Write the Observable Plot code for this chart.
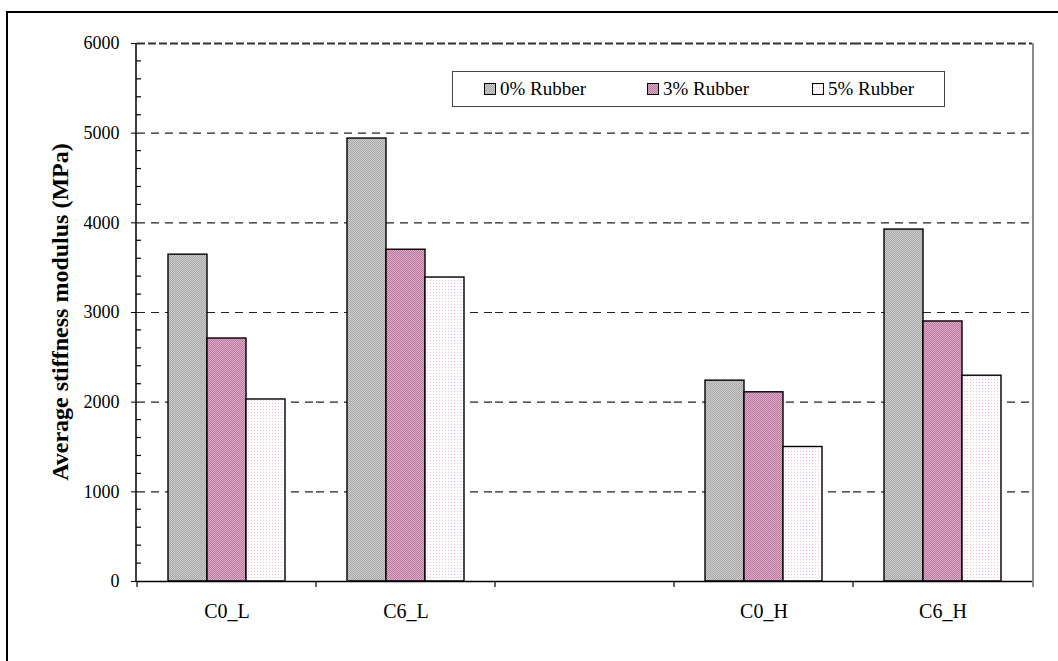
<!DOCTYPE html>
<html>
<head>
<meta charset="utf-8">
<script src="https://cdn.jsdelivr.net/npm/d3@7"></script>
<script src="https://cdn.jsdelivr.net/npm/@observablehq/plot@0.6"></script>
<style>
  html, body { margin: 0; padding: 0; background: #fff; }
  #wrap { position: relative; width: 1058px; height: 661px; overflow: hidden; font-family: "Liberation Serif", "DejaVu Serif", serif; }
  #outer { position: absolute; left: 6px; top: 11px; width: 1100px; height: 700px; border: 2.5px solid #000; box-sizing: border-box; }
  #chart { position: absolute; left: 0; top: 0; }
  #chart svg, #chart svg text { font-family: "Liberation Serif", "DejaVu Serif", serif !important; }
  #legend { position: absolute; left: 452px; top: 71px; width: 493px; height: 36px; border: 1px solid #444; background: #fff; box-sizing: border-box; }
  .item { position: absolute; top: 0; height: 34px; display: flex; align-items: center; font-size: 19px; color: #000; white-space: nowrap; }
  .item svg { margin-right: 4px; }
</style>
</head>
<body>
<svg width="0" height="0" style="position:absolute">
  <defs>
    <pattern id="pat0" width="2" height="2" patternUnits="userSpaceOnUse">
      <rect width="2" height="2" fill="#cbcbcb"/>
      <rect x="0" y="0" width="1" height="1" fill="#a9a9a9"/>
      <rect x="1" y="1" width="1" height="1" fill="#a9a9a9"/>
    </pattern>
    <pattern id="pat1" width="2" height="2" patternUnits="userSpaceOnUse">
      <rect width="2" height="2" fill="#dcaac6"/>
      <rect x="0" y="0" width="1" height="1" fill="#bb7ba0"/>
      <rect x="1" y="1" width="1" height="1" fill="#bb7ba0"/>
    </pattern>
    <pattern id="pat2" width="3" height="3" patternUnits="userSpaceOnUse">
      <rect width="3" height="3" fill="#ffffff"/>
      <rect x="1" y="1" width="1" height="1" fill="#ffbcc8"/>
    </pattern>
  </defs>
</svg>
<div id="wrap">
  <div id="outer"></div>
  <div id="chart"></div>
  <div id="legend"></div>
</div>
<script>
// ---- data ----
const slots = ["C0_L", "C6_L", " ", "C0_H", "C6_H"];
const groups = ["C0_L", "C6_L", "C0_H", "C6_H"];
const series = ["0% Rubber", "3% Rubber", "5% Rubber"];
const rubber0 = [3645, 4940, 2240, 3925];
const rubber3 = [2710, 3700, 2110, 2900];
const rubber5 = [2030, 3390, 1500, 2295];
const yMajorTicks = [0, 1000, 2000, 3000, 4000, 5000, 6000];
const yGridTicks = [1000, 2000, 3000, 4000, 5000];
const yLabel = "Average stiffness modulus (MPa)";

const seriesValues = [rubber0, rubber3, rubber5];
const table = [];
groups.forEach((g, i) => series.forEach((s, j) => table.push({group: g, series: s, value: seriesValues[j][i]})));
const gridTable = slots.flatMap(s => yGridTicks.map(v => ({slot: s, value: v})));
const topTable = slots.map(s => ({slot: s, value: 6000}));
const patterns = ["url(#pat0)", "url(#pat1)", "url(#pat2)"];

const FONT = "'Liberation Serif', 'DejaVu Serif', serif";
const W = 1058, H = 661;
const plot = Plot.plot({
  width: W, height: H,
  marginLeft: 136, marginRight: 25, marginTop: 43, marginBottom: 80,
  style: {fontFamily: FONT, fontSize: "18px", color: "#000", background: "transparent", overflow: "visible"},
  fx: {domain: slots, padding: 0},
  x: {domain: series, paddingInner: 0, paddingOuter: 0.75, axis: null},
  y: {domain: [0, 6000]},
  color: {domain: series, range: patterns},
  marks: [
    Plot.ruleY(gridTable, {fx: "slot", y: "value", stroke: "#222", strokeWidth: 1.2, strokeDasharray: "8,6"}),
    Plot.ruleY(topTable, {fx: "slot", y: "value", stroke: "#333", strokeWidth: 1.8, strokeDasharray: "8,3"}),
    Plot.barY(table, {fx: "group", x: "series", y: "value", fill: "series", stroke: "#000", strokeWidth: 1.4}),
    Plot.ruleY([0], {stroke: "#000", strokeWidth: 1.5}),
    Plot.axisY({ticks: yMajorTicks, tickFormat: d => String(d), tickSize: 6, tickPadding: 12, label: null, fontSize: 18, fontFamily: FONT}),
    Plot.axisFx({anchor: "bottom", tickSize: 0, tickPadding: 22, label: null, fontSize: 20, fontFamily: FONT})
  ]
});
document.getElementById("chart").appendChild(plot);

// frame lines, boundary ticks and minor ticks from Plot's scales
const svg = d3.select(plot);
const fx = plot.scale("fx"), y = plot.scale("y");
const x0 = fx.range[0], x1 = fx.range[1];
const y0 = y.apply(0), yTop = y.apply(6000);
const g = svg.append("g");
g.append("line").attr("x1", x0).attr("x2", x0).attr("y1", yTop).attr("y2", y0 + 1).attr("stroke", "#000").attr("stroke-width", 1.5);
g.append("line").attr("x1", x1).attr("x2", x1).attr("y1", yTop).attr("y2", y0 + 6).attr("stroke", "#666").attr("stroke-width", 1.5);
slots.forEach((s, i) => {
  const xb = fx.apply(s);
  g.append("line").attr("x1", xb).attr("x2", xb).attr("y1", y0).attr("y2", y0 + 6).attr("stroke", "#000").attr("stroke-width", 1.2);
});
d3.range(200, 6000, 200).filter(v => v % 1000 !== 0).forEach(v => {
  g.append("line").attr("x1", x0).attr("x2", x0 + 5).attr("y1", y.apply(v)).attr("y2", y.apply(v)).attr("stroke", "#000").attr("stroke-width", 1.2);
});
g.append("text")
  .attr("transform", `translate(68,${(y0 + yTop) / 2}) rotate(-90)`)
  .attr("text-anchor", "middle")
  .attr("font-weight", "bold")
  .attr("font-size", 24)
  .attr("fill", "#000")
  .text(yLabel);

// legend
const legend = document.getElementById("legend");
const itemLeft = [31, 194, 359];
series.forEach((s, i) => {
  const d = document.createElement("div");
  d.className = "item";
  d.style.left = itemLeft[i] + "px";
  d.innerHTML = `<svg width="12" height="12"><rect x="0.5" y="0.5" width="11" height="11" fill="${patterns[i]}" stroke="#000" stroke-width="1"/></svg><span>${s}</span>`;
  legend.appendChild(d);
});
</script>
</body>
</html>
